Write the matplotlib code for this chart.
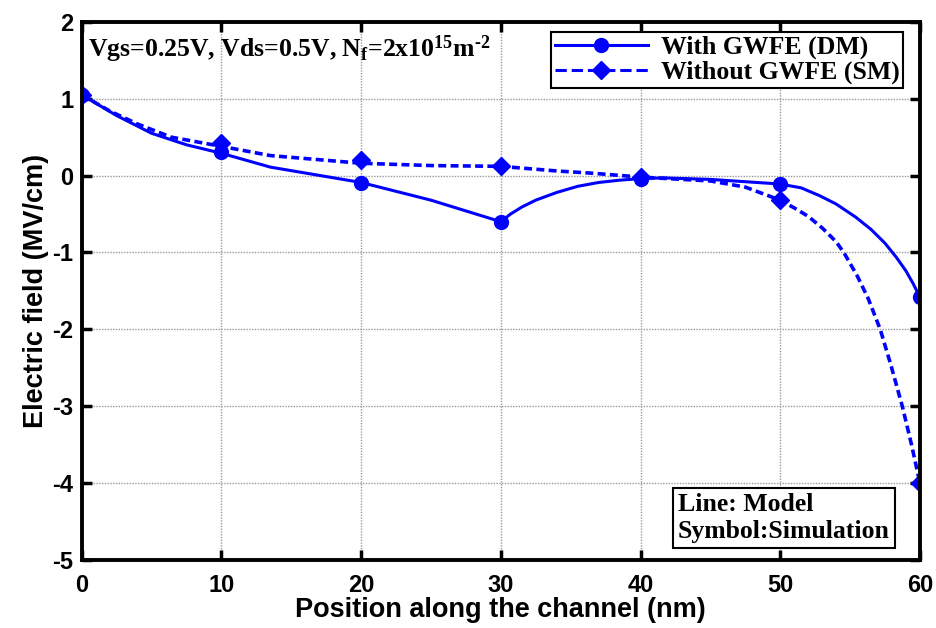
import matplotlib.pyplot as plt

plt.rcParams["axes.unicode_minus"] = False
plt.rcParams["mathtext.fontset"] = "custom"
plt.rcParams["mathtext.rm"] = "Liberation Serif:bold"
plt.rcParams["mathtext.bf"] = "Liberation Serif:bold"
plt.rcParams["mathtext.it"] = "Liberation Serif:bold"

# simulation symbols
pos_sim = [0, 10, 20, 30, 40, 50, 60]
dm_sim = [1.05, 0.30, -0.10, -0.60, -0.04, -0.11, -1.58]
sm_sim = [1.05, 0.43, 0.20, 0.13, -0.02, -0.32, -4.0]

# model lines
pos_dm = [0, 2.5, 5, 7.5, 10, 13.5, 20, 25, 30, 30.7, 31.5, 32.5, 34, 35.5,
          37, 38.5, 40, 41.6, 45, 50, 51.5, 52.8, 54, 55.4, 56.5, 57.5, 58.3,
          59, 59.5, 60]
dm_model = [1.05, 0.78, 0.55, 0.40, 0.29, 0.11, -0.09, -0.32, -0.60, -0.50,
            -0.41, -0.32, -0.22, -0.14, -0.09, -0.06, -0.04, -0.03, -0.05,
            -0.11, -0.16, -0.26, -0.37, -0.54, -0.70, -0.88, -1.06, -1.24,
            -1.40, -1.58]
pos_sm = [0, 2, 4, 6.4, 10, 13.5, 20, 25, 30, 34, 36.6, 40, 45, 47.5, 50, 51,
          52, 53, 54, 54.55, 55.5, 56.3, 57.16, 57.9, 58.74, 59.4, 60]
sm_model = [1.05, 0.84, 0.67, 0.50, 0.38, 0.26, 0.16, 0.13, 0.12, 0.06, 0.03,
            -0.02, -0.07, -0.15, -0.32, -0.42, -0.53, -0.68, -0.86, -1.0,
            -1.3, -1.6, -2.0, -2.45, -3.0, -3.5, -4.0]

xticks = [0, 10, 20, 30, 40, 50, 60]
yticks = [-5, -4, -3, -2, -1, 0, 1, 2]

blue = "#0000ff"

fig = plt.figure(figsize=(9.36, 6.28), dpi=100)
ax = fig.add_axes([0.0873, 0.1083, 0.8955, 0.857])

ax.plot(pos_dm, dm_model, color=blue, lw=2.2)
ax.plot(pos_sm, sm_model, color=blue, lw=2.6, dashes=(2.2, 1.2))
ax.plot(pos_sim, dm_sim, "o", color=blue, ms=10)
ax.plot(pos_sim, sm_sim, "D", color=blue, ms=9.5)

# legend proxies
h1, = ax.plot([], [], "-o", color=blue, lw=2.2, ms=10, label="With GWFE (DM)")
h2, = ax.plot([], [], "--D", color=blue, lw=2.2, ms=9.5, label="Without GWFE (SM)")
leg = ax.legend(handles=[h1, h2], loc="upper right", bbox_to_anchor=(0.98, 0.981),
                prop={"family": "Liberation Serif", "weight": "bold", "size": 18.5},
                handlelength=3.6, fancybox=False, framealpha=1, edgecolor="black",
                borderpad=0.15, labelspacing=0.05, handletextpad=0.5,
                borderaxespad=0)
leg.get_frame().set_linewidth(1.5)

ax.text(0.0075, 0.978, r"Vgs=0.25V, Vds=0.5V, N$_{f}$=2x10$^{15}$m$^{\text{-2}}$",
        transform=ax.transAxes, ha="left", va="top",
        family="Liberation Serif", weight="bold", fontsize=18.5)

ax.text(0.711, 0.032, "Line: Model\nSymbol:Simulation", transform=ax.transAxes,
        ha="left", va="bottom", family="Liberation Serif", weight="bold",
        fontsize=18.5, linespacing=1.2,
        bbox=dict(boxstyle="square,pad=0.2", fc="white", ec="black", lw=1.5))

ax.set_xlim(0, 60)
ax.set_ylim(-5, 2)
ax.set_xticks(xticks)
ax.set_yticks(yticks)
ax.grid(True, color="#999999", linestyle=(0, (1, 1)), lw=1)
ax.tick_params(direction="in", length=7, width=2.5, labelsize=17,
               top=True, right=True)
ax.tick_params(axis="x", pad=10)
ax.tick_params(axis="y", pad=6)
for lab in ax.get_xticklabels() + ax.get_yticklabels():
    lab.set_fontweight("bold")
    lab.set_family("Liberation Sans")
for sp in ax.spines.values():
    sp.set_linewidth(2.8)

ax.set_xlabel("Position along the channel (nm)", family="Liberation Sans",
              weight="bold", fontsize=19.5, labelpad=0)
ax.set_ylabel("Electric field (MV/cm)", family="Liberation Sans",
              weight="bold", fontsize=19.5, labelpad=2)

fig.savefig("out.png", dpi=100)
